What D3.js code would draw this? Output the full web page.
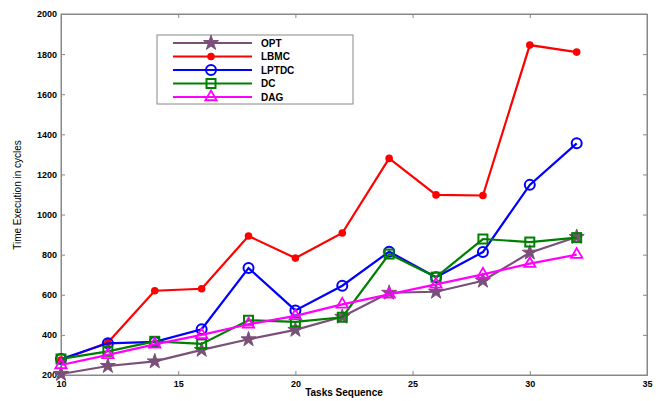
<!DOCTYPE html>
<html><head><meta charset="utf-8">
<script src="https://cdn.jsdelivr.net/npm/d3@7"></script>
<style>body{margin:0;background:#fff}svg{display:block}text{font-family:"Liberation Sans",Arial,sans-serif}</style>
</head><body><svg id="c" width="664" height="401"></svg>
<script>
const tasks = [10,12,14,16,18,20,22,24,26,28,30,32];
const opt   = [205,245,268,325,378,425,490,610,615,670,810,888];
const lbmc  = [275,362,620,630,893,783,908,1280,1098,1095,1845,1810];
const lptdc = [280,358,365,428,733,522,645,815,688,813,1148,1355];
const dc    = [280,318,368,355,473,465,488,803,688,878,863,885];
const dag   = [250,300,353,400,453,495,552,602,652,702,755,800];
const seriesNames = ["OPT","LBMC","LPTDC","DC","DAG"];
const xTicks = [10,15,20,25,30,35];
const yTicks = [200,400,600,800,1000,1200,1400,1600,1800,2000];

const seriesData = [opt,lbmc,lptdc,dc,dag];
const colors = ["#7a4f78","#ff0000","#0000ff","#008000","#ff00ff"];
const markers = ["star","dot","circle","square","triangle"];

const svg = d3.select("#c");
const L=61,R=647,T=14,B=375;
const x = d3.scaleLinear().domain([10,35]).range([L,R]);
const y = d3.scaleLinear().domain([200,2000]).range([B,T]);

// box
svg.append("rect").attr("x",L).attr("y",T).attr("width",R-L).attr("height",B-T)
  .attr("fill","none").attr("stroke","#888").attr("stroke-width",1);

const tickFont = "9px";
const gx = svg.append("g").attr("transform",`translate(0,${B})`)
  .call(d3.axisBottom(x).tickValues(xTicks).tickSize(-4).tickPadding(6).tickFormat(d3.format("d")));
const gy = svg.append("g").attr("transform",`translate(${L},0)`)
  .call(d3.axisLeft(y).tickValues(yTicks).tickSize(-4).tickPadding(4).tickFormat(d3.format("d")));
// right/top ticks
svg.append("g").attr("transform",`translate(${R},0)`)
  .call(d3.axisRight(y).tickValues(yTicks).tickSize(-4).tickFormat(""));
svg.append("g").attr("transform",`translate(0,${T})`)
  .call(d3.axisTop(x).tickValues(xTicks).tickSize(-4).tickFormat(""));
svg.selectAll(".domain").attr("stroke","#888");
svg.selectAll(".tick line").attr("stroke","#888");
svg.selectAll(".tick text").attr("fill","#000").style("font-size",tickFont).style("font-weight","bold")
  .style("font-family","'Liberation Sans',Arial,sans-serif");

svg.append("text").attr("x",(L+R)/2-10).attr("y",396).attr("text-anchor","middle")
  .style("font-size","10px").style("font-weight","bold").text("Tasks Sequence");
svg.append("text").attr("transform","translate(21,195) rotate(-90)").attr("text-anchor","middle")
  .style("font-size","10px").text("Time Execution in cycles");

const star = d3.symbol().type(d3.symbolStar).size(70);
const tri = d3.symbol().type(d3.symbolTriangle).size(55);

function drawMarker(g, type, color, cx, cy) {
  if (type==="star") g.append("path").attr("d",star()).attr("transform",`translate(${cx},${cy})`).attr("fill",color).attr("stroke",color);
  else if (type==="dot") g.append("circle").attr("cx",cx).attr("cy",cy).attr("r",3.8).attr("fill",color);
  else if (type==="circle") g.append("circle").attr("cx",cx).attr("cy",cy).attr("r",5).attr("fill","none").attr("stroke",color).attr("stroke-width",2);
  else if (type==="square") g.append("rect").attr("x",cx-4.5).attr("y",cy-4.5).attr("width",9).attr("height",9).attr("fill","none").attr("stroke",color).attr("stroke-width",2);
  else if (type==="triangle") g.append("path").attr("d",tri()).attr("transform",`translate(${cx},${cy})`).attr("fill","none").attr("stroke",color).attr("stroke-width",1.8);
}

const line = d3.line().x((d,i)=>x(tasks[i])).y(d=>y(d));
seriesData.forEach((vals,k)=>{
  const g = svg.append("g");
  g.append("path").attr("d",line(vals)).attr("fill","none").attr("stroke",colors[k]).attr("stroke-width",2.2);
  vals.forEach((v,i)=>drawMarker(g,markers[k],colors[k],x(tasks[i]),y(v)));
});

// legend
const lg = svg.append("g");
lg.append("rect").attr("x",157).attr("y",35).attr("width",196).attr("height",69)
  .attr("fill","#fff").attr("stroke","#888");
seriesNames.forEach((n,k)=>{
  const yy = 43 + k*13.5;
  lg.append("line").attr("x1",173).attr("x2",252).attr("y1",yy).attr("y2",yy).attr("stroke",colors[k]).attr("stroke-width",2.2);
  drawMarker(lg,markers[k],colors[k],211,yy);
  lg.append("text").attr("x",261).attr("y",yy+3.5).style("font-size","10px").style("font-weight","bold").text(n);
});
</script></body></html>
